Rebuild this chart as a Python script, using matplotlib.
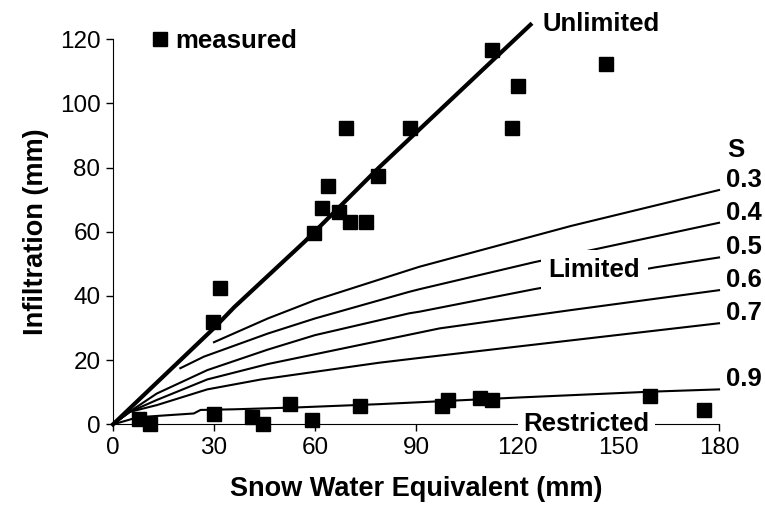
import matplotlib
matplotlib.use("Agg")
import matplotlib.pyplot as plt

plt.rcParams['font.family'] = ['Liberation Sans', 'DejaVu Sans']

# === measured points ===
meas_x = [7.7, 11, 29.7, 31.8, 30, 41.2, 44.7, 52.6, 59.1, 59.6, 62.2, 63.8, 67.2, 70.4,
          75, 78.7, 69.1, 112.7, 88.2, 120.3, 118.5, 146.4, 73.4, 97.6, 99.6, 109, 112.5,
          159.5, 175.5]
meas_y = [1.6, 0, 32, 42.5, 3.1, 2.2, 0, 6.3, 1.3, 59.5, 67.3, 74.3, 66.2, 62.9,
          62.9, 77.4, 92.4, 116.6, 92.4, 105.5, 92.4, 112.3, 5.7, 5.7, 7.6, 8.1, 7.6,
          8.8, 4.5]

# === model curves ===
unl_x = [0, 30, 36, 57, 79, 124]
unl_y = [0, 30, 36.5, 57, 80, 124.5]

s_labels = ["0.3", "0.4", "0.5", "0.6", "0.7", "0.9"]
s_x = [
    [30, 46, 60, 88, 91, 136, 180],
    [20, 27, 46, 60, 88, 91, 125, 143, 180],
    [0, 5, 13, 28, 46, 60, 88, 91, 125, 161, 180],
    [0, 5, 13, 28, 46, 97, 136, 180],
    [0, 5, 13, 28, 44, 79, 91, 180],
    [0, 5, 7, 24, 26, 36, 55, 79, 121, 160, 180],
]
s_y = [
    [25.6, 33.0, 38.7, 48.1, 49.1, 61.8, 73.0],
    [17.5, 21.1, 28.3, 33.0, 41.3, 42.1, 50.5, 54.5, 62.8],
    [0, 4, 9.6, 16.9, 23.3, 27.8, 34.6, 35.1, 42.1, 48.9, 52.0],
    [0, 3.9, 7.6, 14.0, 18.8, 29.9, 35.6, 41.8],
    [0, 3.9, 6.0, 10.9, 14.0, 19.2, 20.7, 31.5],
    [0, 1.5, 2.2, 3.4, 4.5, 4.7, 5.3, 6.3, 8.4, 10.2, 10.9],
]

fig = plt.figure(figsize=(7.65, 5.22), dpi=100)
ax = fig.add_axes([0.1477, 0.187, 0.7922, 0.738])

for xs, ys in zip(s_x, s_y):
    ax.plot(xs, ys, color="black", lw=1.5, clip_on=False, zorder=2)
ax.plot(unl_x, unl_y, color="black", lw=3, clip_on=False, zorder=3)

ax.plot(meas_x, meas_y, "s", color="black", ms=10, clip_on=False, zorder=4,
        label="measured")

# labels at the right end of each curve
ax.text(182.5, 85.5, "S", fontsize=18.5, fontweight="bold", va="center", ha="left")
for lab, xs, ys in zip(s_labels, s_x, s_y):
    ax.text(xs[-1] + 2, ys[-1] + 1, lab, fontsize=18.5, fontweight="bold",
            va="baseline", ha="left")

ax.text(127.7, 124.7, "Unlimited", fontsize=18.5, fontweight="bold", va="center", ha="left")
ax.text(143, 48.1, "Limited", fontsize=18.5, fontweight="bold", va="center", ha="center",
        zorder=5, bbox=dict(facecolor="white", edgecolor="none", boxstyle="square,pad=0.3"))
ax.text(140.6, 0, "Restricted", fontsize=18.5, fontweight="bold", va="center", ha="center",
        zorder=5, clip_on=False,
        bbox=dict(facecolor="white", edgecolor="none", boxstyle="square,pad=0.2"))

ax.set_xlim(0, 180)
ax.set_ylim(0, 120)
ax.set_xticks(range(0, 181, 30))
ax.set_yticks(range(0, 121, 20))
ax.tick_params(direction="out", length=5, width=1, labelsize=17.5, pad=4)
ax.spines["top"].set_visible(False)
ax.spines["right"].set_visible(False)
# tick labels above the white box of "Restricted", spine below it
ax.xaxis.set_zorder(6)
# the tick marks at 120 and 150 sit under the "Restricted" box in the original
for t in ax.xaxis.get_major_ticks()[4:6]:
    t.tick1line.set_visible(False)

ax.set_xlabel("Snow Water Equivalent (mm)", fontsize=19.5, fontweight="bold", labelpad=12)
ax.set_ylabel("Infiltration (mm)", fontsize=19.5, fontweight="bold", labelpad=8)

ax.legend(loc="center left", bbox_to_anchor=(0.065, 0.995), frameon=False,
          handlelength=0.6, handletextpad=0.3, borderpad=0, borderaxespad=0,
          prop=dict(size=18.5, weight="bold"))

fig.savefig("out.png", dpi=100)
